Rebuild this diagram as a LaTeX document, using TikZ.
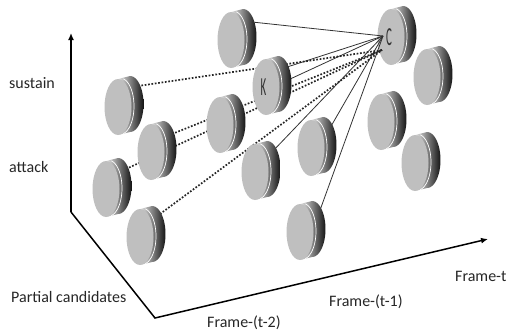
\documentclass[tikz,border=0pt]{standalone}
\usepackage{fontspec}
\setmainfont{Carlito}
\usetikzlibrary{arrows.meta}
\tikzset{
  axisline/.style={line width=1.5pt, black},
  solidcon/.style={line width=0.8pt, black!80},
  dotcon/.style={line width=1.7pt, black!85, dash pattern=on 1.7pt off 1.7pt},
  lbl/.style={font=\fontsize{16}{18}\selectfont, text=black!85, inner sep=0pt},
  disclabel/.style={font=\fontsize{26}{28}\selectfont, text=black!80, inner sep=0pt},
}
\newcommand{\mydisc}[3]{%
  \coordinate (#1) at (#2,#3);
  \shade[left color=black!10, middle color=black!40, right color=black!92]
    plot[domain=-90:90,samples=40] ({#2+12+13.5*cos(\x)},{#3-3+28*sin(\x)})
    -- (#2,#3+28) -- (#2,#3-28) -- cycle;
  \draw[white, line width=0.7pt]
    plot[domain=-78:78,samples=30] ({#2+2.5+13.5*cos(\x)},{#3-0.8+28*sin(\x)});
  \fill[black!25] (#2,#3) ellipse [x radius=13.5pt, y radius=28pt];
}
\begin{document}
\begin{tikzpicture}[x=1pt,y=-1pt]
\useasboundingbox (0,0) rectangle (509,330);
% axes
\coordinate (ytop) at (71,33);
\coordinate (corner1) at (71,212);
\coordinate (corner2) at (155,318);
\coordinate (xend) at (488,239);
\draw[axisline, -{Latex[length=7pt,width=6pt]}] (corner1) -- (ytop);
\draw[axisline, -{Latex[length=7pt,width=6pt]}] (corner1) -- (corner2) -- (xend);
% labels
\node[lbl, anchor=base west] (sus) at (9,88) {sustain};
\node[lbl, anchor=base west] (att) at (9,172) {attack};
\node[lbl, anchor=base west] (pc) at (11,302) {Partial candidates};
\node[lbl, anchor=base west] (f2) at (207,327) {Frame-(t-2)};
\node[lbl, anchor=base west] (f1) at (329,306) {Frame-(t-1)};
\node[lbl, anchor=base west] (ft) at (455,281) {Frame-t};
% back discs
\mydisc{d4}{427}{77}
\mydisc{d1}{231}{40}
\mydisc{C}{391}{37}
\node[disclabel] (Ct) at (389,37.5) {\scalebox{0.42}[1]{C}};
% connector end points
\coordinate (Cs) at (383,36);
\coordinate (Cd) at (382,50);
\coordinate (d1o) at (252,22);
\coordinate (Ko1) at (284,68);
\coordinate (Ko2) at (288,80);
\coordinate (d10o) at (272,152);
\coordinate (d11o) at (330,128);
\coordinate (d14o) at (319,213);
\coordinate (d5o) at (138,86);
\coordinate (d6o) at (172,134);
\coordinate (d8o) at (126,169);
\coordinate (d9o) at (160,214);
% connectors
\draw[solidcon] (d1o) -- (Cs);
\draw[solidcon] (Ko1) -- (Cs);
\draw[solidcon] (Ko2) -- (Cs);
\draw[solidcon] (d10o) -- (Cs);
\draw[solidcon] (d11o) -- (Cs);
\draw[solidcon] (d14o) -- (Cs);
\draw[dotcon] (d5o) -- (Cd);
\draw[dotcon] (d6o) -- (Cd);
\draw[dotcon] (d8o) -- (Cd);
\draw[dotcon] (d9o) -- (Cd);
% front discs
\mydisc{K}{266}{87}
\node[disclabel] (Kt) at (263.5,87) {\scalebox{0.42}[1]{K}};
\mydisc{d5}{118}{107}
\mydisc{d7}{220}{125}
\mydisc{d12}{381}{122}
\mydisc{d6}{151}{152}
\mydisc{d11}{311}{148}
\mydisc{d13}{415}{163}
\mydisc{d10}{255}{172}
\mydisc{d8}{106}{189}
\mydisc{d9}{140}{237}
\mydisc{d14}{300}{232}
\end{tikzpicture}
\end{document}
